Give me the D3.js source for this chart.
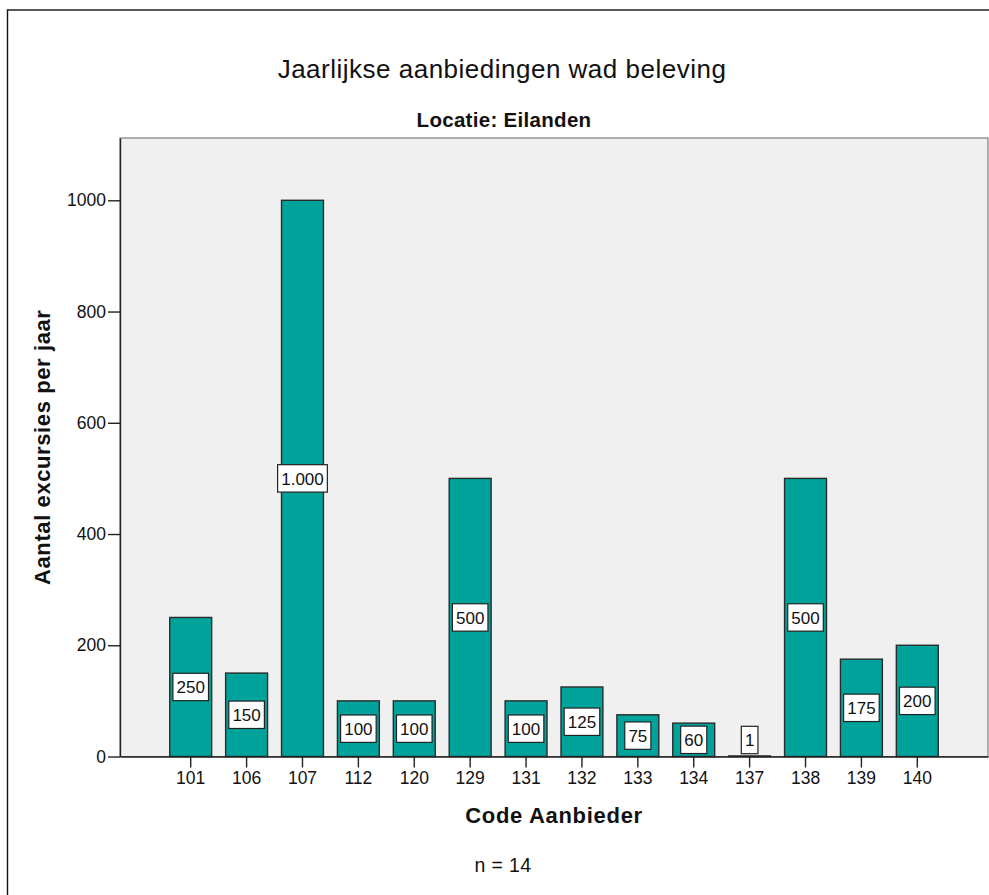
<!DOCTYPE html>
<html>
<head>
<meta charset="utf-8">
<script src="https://cdn.jsdelivr.net/npm/d3@7"></script>
<style>
  body { margin: 0; background: #fff; }
  svg { display: block; font-family: "Liberation Sans", Arial, sans-serif; }
  .axis text { font-size: 17.5px; fill: #111; }
  .axis path, .axis line { stroke: #222; stroke-width: 1.4px; }
</style>
</head>
<body>
<svg id="chart" width="989" height="895"></svg>
<script>
const codes = ["101", "106", "107", "112", "120", "129", "131", "132", "133", "134", "137", "138", "139", "140"];
const excursies = [250, 150, 1000, 100, 100, 500, 100, 125, 75, 60, 1, 500, 175, 200];
const yTicks = [0, 200, 400, 600, 800, 1000];

const data = codes.map((c, i) => ({ code: c, value: excursies[i] }));

const svg = d3.select("#chart");
const plot = { left: 120, right: 988, top: 138, bottom: 756.5 };

const x = d3.scaleBand()
  .domain(codes)
  .range([plot.left, plot.right])
  .paddingInner(0.25)
  .paddingOuter(0.89);

const y = d3.scaleLinear()
  .domain([0, 1112])
  .range([plot.bottom, plot.top]);

const nl = d3.formatLocale({ decimal: ",", thousands: ".", grouping: [3], currency: ["€", ""] });
const fmt = nl.format(",");

// outer frame (runs off the right and bottom edge)
svg.append("rect")
  .attr("x", 7.5).attr("y", 10)
  .attr("width", 1000).attr("height", 900)
  .attr("fill", "none")
  .attr("stroke", "#111")
  .attr("stroke-width", 1.4);

// plot background
svg.append("rect")
  .attr("x", plot.left).attr("y", plot.top)
  .attr("width", plot.right - plot.left)
  .attr("height", plot.bottom - plot.top)
  .attr("fill", "#f0f0f0")
  .attr("stroke", "#666")
  .attr("stroke-width", 1);

// bars
svg.append("g").selectAll("rect")
  .data(data)
  .join("rect")
  .attr("x", d => x(d.code))
  .attr("y", d => y(d.value))
  .attr("width", x.bandwidth())
  .attr("height", d => y(0) - y(d.value))
  .attr("fill", "#00a39b")
  .attr("stroke", "#2b2b2b")
  .attr("stroke-width", 1.4);

// axes
svg.append("g")
  .attr("class", "axis")
  .attr("transform", `translate(${plot.left},0)`)
  .call(d3.axisLeft(y).tickValues(yTicks).tickSize(12).tickSizeOuter(0).tickPadding(2).tickFormat(d3.format("d")));

svg.append("g")
  .attr("class", "axis")
  .attr("transform", `translate(0,${plot.bottom})`)
  .call(d3.axisBottom(x).tickSize(11).tickSizeOuter(0).tickPadding(4));

// value labels
const labels = svg.append("g").selectAll("g")
  .data(data)
  .join("g")
  .attr("transform", d => `translate(${x(d.code) + x.bandwidth() / 2},${Math.min(y(d.value / 2), 740)})`);

labels.append("text")
  .attr("text-anchor", "middle")
  .attr("dy", "0.36em")
  .attr("font-size", 17)
  .attr("fill", "#111")
  .text(d => fmt(d.value));

labels.each(function () {
  const g = d3.select(this);
  const bb = g.select("text").node().getBBox();
  g.insert("rect", "text")
    .attr("x", bb.x - 3.6)
    .attr("y", -13.7)
    .attr("width", bb.width + 7.2)
    .attr("height", 27.4)
    .attr("fill", "#fff")
    .attr("stroke", "#222")
    .attr("stroke-width", 1.2);
});

// titles
svg.append("text")
  .attr("x", 502).attr("y", 78.3)
  .attr("text-anchor", "middle")
  .attr("font-size", 26)
  .attr("letter-spacing", 0.5)
  .attr("fill", "#111")
  .text("Jaarlijkse aanbiedingen wad beleving");

svg.append("text")
  .attr("x", 504).attr("y", 127.3)
  .attr("text-anchor", "middle")
  .attr("font-size", 20.5)
  .attr("font-weight", "bold")
  .attr("letter-spacing", 0.3)
  .attr("fill", "#111")
  .text("Locatie: Eilanden");

svg.append("text")
  .attr("transform", `translate(50,${(plot.top + plot.bottom) / 2}) rotate(-90)`)
  .attr("text-anchor", "middle")
  .attr("font-size", 22)
  .attr("font-weight", "bold")
  .attr("letter-spacing", 0.6)
  .attr("fill", "#111")
  .text("Aantal excursies per jaar");

svg.append("text")
  .attr("x", (plot.left + plot.right) / 2).attr("y", 823)
  .attr("text-anchor", "middle")
  .attr("font-size", 22)
  .attr("font-weight", "bold")
  .attr("letter-spacing", 0.7)
  .attr("fill", "#111")
  .text("Code Aanbieder");

svg.append("text")
  .attr("x", 503).attr("y", 871.7)
  .attr("text-anchor", "middle")
  .attr("font-size", 19.5)
  .attr("letter-spacing", 0.4)
  .attr("fill", "#111")
  .text("n = 14");
</script>
</body>
</html>
